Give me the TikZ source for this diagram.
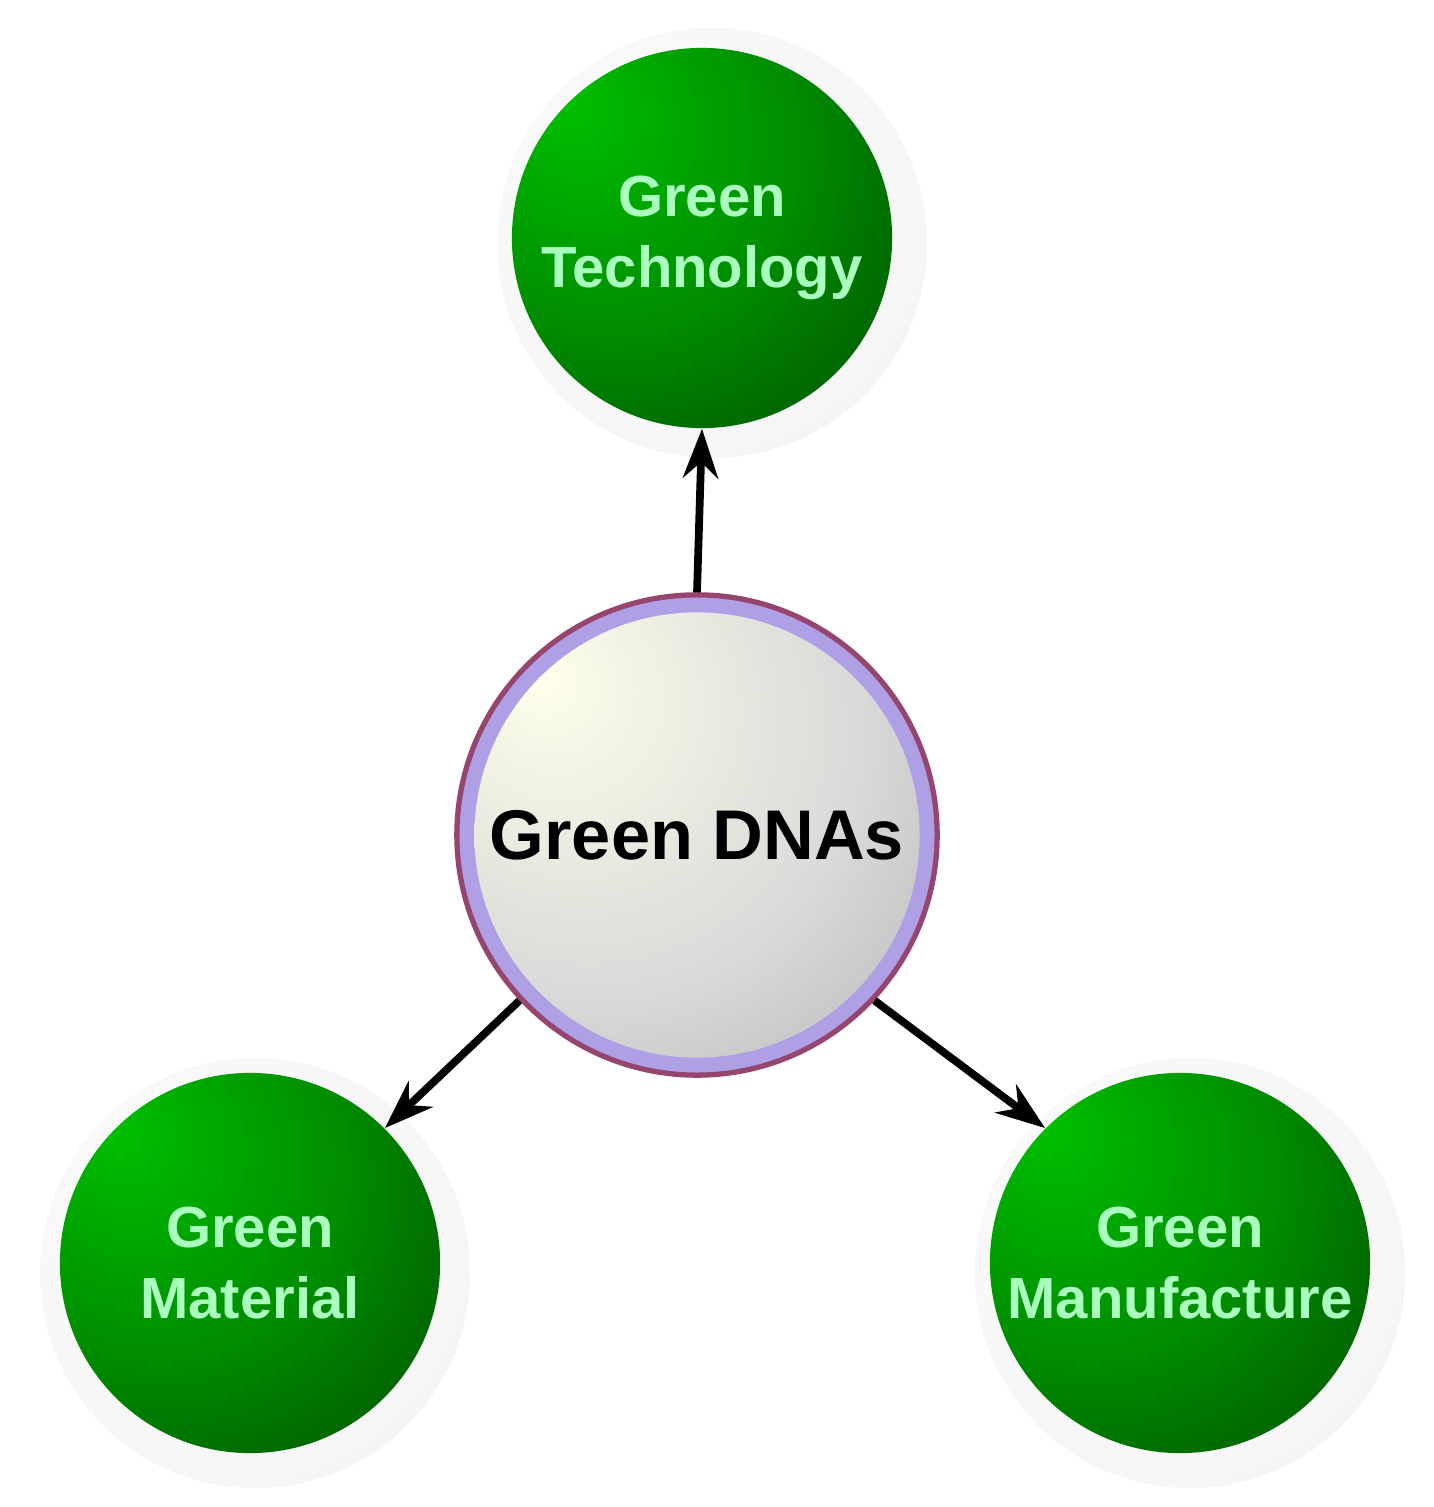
\documentclass[tikz,border=0pt]{standalone}
\usepackage{fontspec}
\setmainfont{Liberation Sans}
\usetikzlibrary{arrows.meta}
\definecolor{gtxt}{RGB}{170,255,190}
\pgfdeclareradialshading{greenball}{\pgfpoint{-18bp}{18bp}}{color(0bp)=(green!75!black);color(25bp)=(green!55!black);color(55bp)=(green!22!black);color(80bp)=(green!22!black)}
\pgfdeclareradialshading{grayball}{\pgfpoint{-18bp}{18bp}}{color(0bp)=(white!92!yellow);color(30bp)=(gray!30);color(60bp)=(gray!75);color(80bp)=(gray!75)}
\pgfdeclareradialshading{ringball}{\pgfpoint{-6bp}{6bp}}{color(0bp)=(white);color(38bp)=(gray!10);color(48bp)=(gray!40);color(56bp)=(gray!65);color(60bp)=(gray!65)}
\tikzset{
  gnode/.style={circle,minimum size=3.8cm,shading=greenball,text=gtxt,font=\bfseries\fontsize{16.5}{20}\selectfont,align=center,inner sep=0pt},
  ring/.style={circle,minimum size=4.3cm,shading=ringball,inner sep=0pt},
  arr/.style={-{Stealth[length=14pt,width=10pt]},line width=2.2pt,black}
}
\begin{document}
\begin{tikzpicture}[x=0.01cm,y=-0.01cm]
\useasboundingbox (0,0) rectangle (1433,1507);
\node[ring] (tr) at (712,243) {};
\node[ring] (lr) at (255,1273) {};
\node[ring] (rr) at (1190,1273) {};
\node[gnode] (tech) at (702,238) {Green\\Technology};
\node[gnode] (mat) at (250,1263) {Green\\Material};
\node[gnode] (man) at (1180,1263) {Green\\Manufacture};
\node[circle,minimum size=4.8cm,fill={rgb,255:red,175;green,160;blue,230},draw={rgb,255:red,150;green,70;blue,110},line width=1.5pt,inner sep=0pt] (dnar) at (697,835) {};
\node[circle,minimum size=4.45cm,shading=grayball,inner sep=0pt,font=\bfseries\fontsize{20}{24}\selectfont] (dna) at (697,835) {Green DNAs};
\draw[arr] (dnar.north) -- (tech.south);
\draw[arr] (dnar.-137) -- (mat.north east);
\draw[arr] (dnar.-43) -- (man.north west);
\end{tikzpicture}
\end{document}
